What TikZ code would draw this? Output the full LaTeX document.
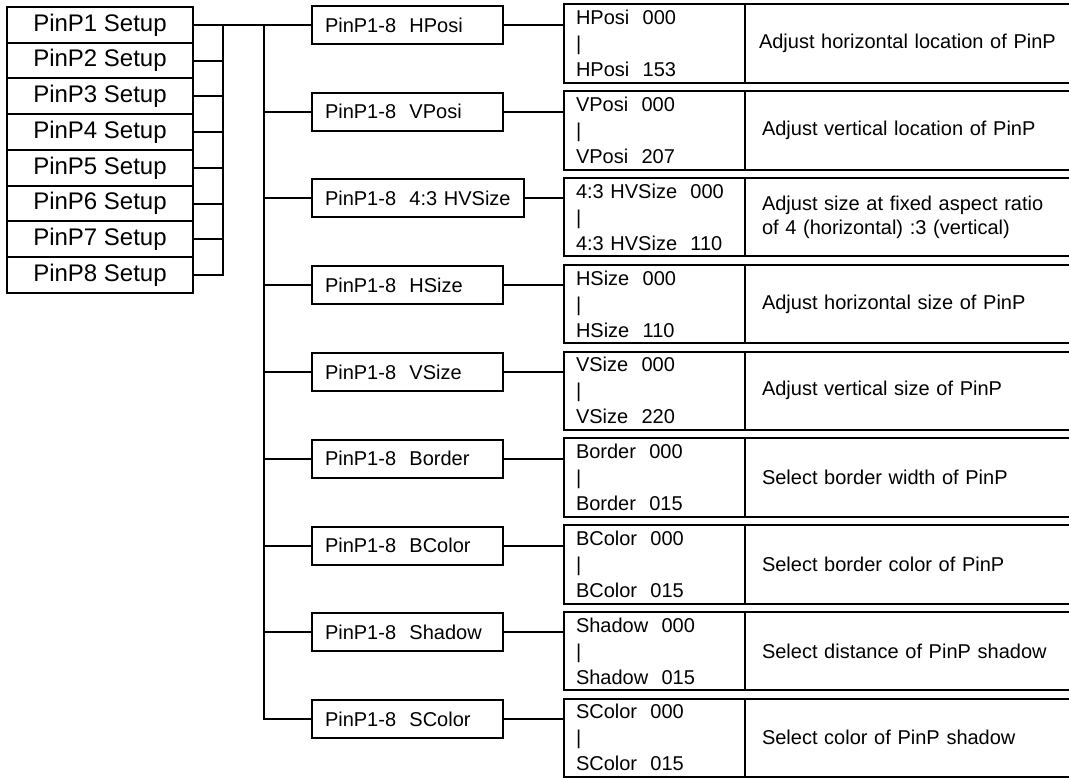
\documentclass[tikz,border=0pt]{standalone}
\usepackage{fontspec}
\setmainfont{Liberation Sans}
\usepackage{tikz}
\usetikzlibrary{positioning}

\begin{document}
\begin{tikzpicture}[x=1pt, y=-1pt, line width=2pt,
    setupbox/.style={draw, outer sep=0pt, inner sep=0pt, minimum width=186pt, minimum height=35.75pt, font=\fontsize{24}{28}\selectfont},
    itembox/.style={draw, outer sep=0pt, inner xsep=13pt, inner ysep=0pt, minimum height=38pt, text width=165pt, align=left, anchor=west, font=\fontsize{20}{24}\selectfont},
    rangebox/.style={draw, outer sep=0pt, inner xsep=12pt, inner ysep=0pt, minimum height=78.5pt, text width=157pt, align=left, anchor=north west, font=\fontsize{20}{26}\selectfont},
    descbox/.style={draw, outer sep=0pt, inner xsep=17pt, inner ysep=0pt, minimum height=78.5pt, text width=312pt, align=left, font=\fontsize{20}{24}\selectfont}]
    \useasboundingbox (0,0) rectangle (1069,778);

    \node[setupbox, anchor=north west] (s1) at (7,7) {PinP1 Setup};
    \node[setupbox, below=0pt of s1] (s2) {PinP2 Setup};
    \node[setupbox, below=0pt of s2] (s3) {PinP3 Setup};
    \node[setupbox, below=0pt of s3] (s4) {PinP4 Setup};
    \node[setupbox, below=0pt of s4] (s5) {PinP5 Setup};
    \node[setupbox, below=0pt of s5] (s6) {PinP6 Setup};
    \node[setupbox, below=0pt of s6] (s7) {PinP7 Setup};
    \node[setupbox, below=0pt of s7] (s8) {PinP8 Setup};

    \node[itembox] (m1) at (312,24.9) {PinP1-8~~HPosi};
    \node[itembox] (m2) at (312,111.75) {PinP1-8~~VPosi};
    \node[itembox, text width=186pt] (m3) at (312,198.5) {PinP1-8~~4:3 HVSize};
    \node[itembox] (m4) at (312,285.25) {PinP1-8~~HSize};
    \node[itembox] (m5) at (312,372) {PinP1-8~~VSize};
    \node[itembox] (m6) at (312,458.75) {PinP1-8~~Border};
    \node[itembox] (m7) at (312,545.5) {PinP1-8~~BColor};
    \node[itembox] (m8) at (312,632.25) {PinP1-8~~Shadow};
    \node[itembox] (m9) at (312,719) {PinP1-8~~SColor};

    \node[rangebox] (r1) at (564,4.5) {HPosi~~000\\|\\HPosi~~153};
    \node[rangebox] (r2) at (564,91.25) {VPosi~~000\\|\\VPosi~~207};
    \node[rangebox] (r3) at (564,178) {4:3 HVSize~~000\\|\\4:3 HVSize~~110};
    \node[rangebox] (r4) at (564,264.75) {HSize~~000\\|\\HSize~~110};
    \node[rangebox] (r5) at (564,351.5) {VSize~~000\\|\\VSize~~220};
    \node[rangebox] (r6) at (564,438.25) {Border~~000\\|\\Border~~015};
    \node[rangebox] (r7) at (564,525) {BColor~~000\\|\\BColor~~015};
    \node[rangebox] (r8) at (564,611.75) {Shadow~~000\\|\\Shadow~~015};
    \node[rangebox] (r9) at (564,698.5) {SColor~~000\\|\\SColor~~015};

    \node[descbox, right=0pt of r1, inner xsep=14pt] (d1) {Adjust horizontal location of PinP};
    \node[descbox, right=0pt of r2] (d2) {Adjust vertical location of PinP};
    \node[descbox, right=0pt of r3] (d3) {Adjust size at fixed aspect ratio\\of 4 (horizontal) :3 (vertical)};
    \node[descbox, right=0pt of r4] (d4) {Adjust horizontal size of PinP};
    \node[descbox, right=0pt of r5] (d5) {Adjust vertical size of PinP};
    \node[descbox, right=0pt of r6] (d6) {Select border width of PinP};
    \node[descbox, right=0pt of r7] (d7) {Select border color of PinP};
    \node[descbox, right=0pt of r8] (d8) {Select distance of PinP shadow};
    \node[descbox, right=0pt of r9] (d9) {Select color of PinP shadow};

    \coordinate (bus) at (223,0);
    \coordinate (trunk) at (264,0);

    \draw (s1.east) -- (s1.east -| m1.west);
    \draw (s2.east) -- (s2.east -| bus);
    \draw (s3.east) -- (s3.east -| bus);
    \draw (s4.east) -- (s4.east -| bus);
    \draw (s5.east) -- (s5.east -| bus);
    \draw (s6.east) -- (s6.east -| bus);
    \draw (s7.east) -- (s7.east -| bus);
    \draw (s1.east -| bus) -- (s8.east -| bus) -- (s8.east);

    \draw (m1.west -| trunk) -- (m9.west -| trunk) -- (m9.west);
    \draw (m2.west) -- (m2.west -| trunk);
    \draw (m3.west) -- (m3.west -| trunk);
    \draw (m4.west) -- (m4.west -| trunk);
    \draw (m5.west) -- (m5.west -| trunk);
    \draw (m6.west) -- (m6.west -| trunk);
    \draw (m7.west) -- (m7.west -| trunk);
    \draw (m8.west) -- (m8.west -| trunk);

    \draw (m1.east) -- (m1.east -| r1.west);
    \draw (m2.east) -- (m2.east -| r2.west);
    \draw (m3.east) -- (m3.east -| r3.west);
    \draw (m4.east) -- (m4.east -| r4.west);
    \draw (m5.east) -- (m5.east -| r5.west);
    \draw (m6.east) -- (m6.east -| r6.west);
    \draw (m7.east) -- (m7.east -| r7.west);
    \draw (m8.east) -- (m8.east -| r8.west);
    \draw (m9.east) -- (m9.east -| r9.west);
\end{tikzpicture}
\end{document}
